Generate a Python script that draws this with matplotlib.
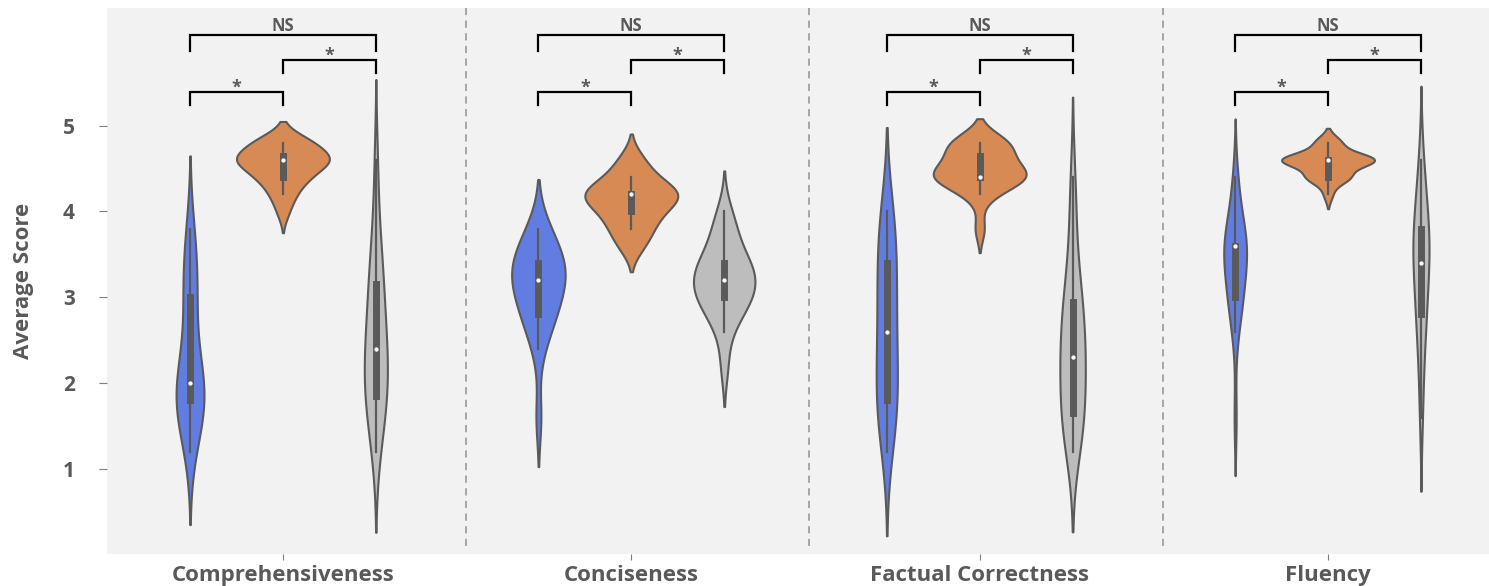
import pandas as pd
import matplotlib
matplotlib.use("Agg")
import matplotlib.pyplot as plt
import seaborn as sns

metrics = ['Comprehensiveness', 'Conciseness', 'Factual Correctness', 'Fluency']
models = ['Model A', 'Model B', 'Model C']
colors = ['#627de1', '#d78a54', '#bdbdbd']

# average rating per response (mean of 5 raters)
comp_a = [1.2, 1.4, 1.6, 1.6, 1.8, 1.8, 1.8, 1.8, 2.0, 2.0, 2.0, 2.2, 2.4, 2.6, 3.0, 3.0, 3.2, 3.4, 3.6, 3.8]
comp_b = [4.0, 4.2, 4.2, 4.4, 4.4, 4.4, 4.4, 4.6, 4.6, 4.6, 4.6, 4.6, 4.6, 4.6, 4.6, 4.8, 4.8, 4.8, 4.8, 4.8]
comp_c = [1.2, 1.4, 1.6, 1.8, 1.8, 1.8, 2.0, 2.0, 2.2, 2.2, 2.4, 2.4, 2.6, 2.6, 2.8, 3.0, 3.2, 3.2,
          3.4, 3.6, 4.0, 4.6]

conc_a = [1.6, 2.4, 2.6, 2.8, 2.8, 2.8, 3.0, 3.0, 3.2, 3.2, 3.2, 3.2, 3.4, 3.4, 3.4, 3.4, 3.6, 3.6, 3.8, 3.8]
conc_b = [3.6, 3.6, 3.8, 3.8, 3.8, 4.0, 4.0, 4.0, 4.0, 4.2, 4.2, 4.2, 4.2, 4.2, 4.2, 4.2, 4.2,
          4.4, 4.4, 4.4, 4.6, 4.6]
conc_c = [2.2, 2.6, 2.8, 2.8, 3.0, 3.0, 3.0, 3.0, 3.2, 3.2, 3.2, 3.2, 3.4, 3.4, 3.4, 3.4, 3.6, 3.8, 3.8, 4.0]

fact_a = [1.2, 1.4, 1.6, 1.8, 1.8, 1.8, 2.0, 2.2, 2.4, 2.6, 2.6, 2.8, 3.0, 3.2, 3.4, 3.4, 3.6, 3.8, 4.0, 4.0]
fact_b = [3.8, 4.2, 4.2, 4.4, 4.4, 4.4, 4.4, 4.4, 4.4, 4.4, 4.4, 4.6, 4.6, 4.6, 4.6, 4.8, 4.8, 4.8, 4.8, 4.8]
fact_c = [1.2, 1.4, 1.4, 1.6, 1.6, 1.6, 1.8, 2.0, 2.2, 2.2, 2.2, 2.4, 2.4, 2.6, 2.8, 2.8, 3.0, 3.0,
          3.2, 3.6, 4.0, 4.4]

flu_a = [1.6, 2.6, 2.8, 3.0, 3.0, 3.0, 3.2, 3.2, 3.4, 3.6, 3.6, 3.6, 3.6, 3.6, 3.6, 3.6, 3.8, 4.0, 4.2, 4.4]
flu_b = [4.2, 4.4, 4.4, 4.4, 4.4, 4.4, 4.6, 4.6, 4.6, 4.6, 4.6, 4.6, 4.6, 4.6, 4.6, 4.6, 4.6, 4.8, 4.8, 4.8]
flu_c = [1.6, 2.0, 2.4, 2.6, 2.8, 2.8, 3.0, 3.2, 3.4, 3.4, 3.4, 3.6, 3.6, 3.8, 3.8, 3.8, 4.0, 4.2, 4.4, 4.6]

scores = {
    'Comprehensiveness': [comp_a, comp_b, comp_c],
    'Conciseness': [conc_a, conc_b, conc_c],
    'Factual Correctness': [fact_a, fact_b, fact_c],
    'Fluency': [flu_a, flu_b, flu_c],
}

# significance tests between model pairs (same for every metric)
pairs = [(0, 2), (1, 2), (0, 1)]
pair_labels = ['NS', '*', '*']

# long format table for seaborn
rows = []
for m in metrics:
    for model, vals in zip(models, scores[m]):
        for v in vals:
            rows.append({'Metric': m, 'Model': model, 'Score': v})
data = pd.DataFrame(rows)

plt.rcParams['font.family'] = ['Open Sans', 'DejaVu Sans']
text_color = '#595959'

fig = plt.figure(figsize=(14.89, 5.86), dpi=100)
ax = fig.add_axes([107 / 1489, 32 / 586, 1382 / 1489, 546 / 586])
ax.set_facecolor('#f2f2f2')

# one call per metric so the violin areas are scaled within each metric
for m in metrics:
    sns.violinplot(data=data[data['Metric'] == m], x='Metric', y='Score', hue='Model',
                   order=metrics, hue_order=models, palette=colors, saturation=1,
                   inner='box', linewidth=1.5, linecolor='#5a5a5a',
                   density_norm='area', common_norm=True, legend=False, ax=ax,
                   inner_kws=dict(box_width=5, whis_width=1.6, marker='.'))

# dashed separators between metrics
for xs in [0.525, 1.51, 2.525]:
    ax.axvline(xs, ymin=0.015, ymax=1, color='#a0a0a0', lw=1.3, ls=(0, (4, 3)))

# significance brackets
hue_off = 0.8 / 3
bracket_top = [6.056, 5.765, 5.39]
bracket_leg = [0.19, 0.15, 0.15]
for i in range(len(metrics)):
    for (a, b), lab, top, leg in zip(pairs, pair_labels, bracket_top, bracket_leg):
        x1 = i + (a - 1) * hue_off
        x2 = i + (b - 1) * hue_off
        ax.plot([x1, x1, x2, x2], [top - leg, top, top, top - leg], color='black', lw=1.6,
                solid_joinstyle='miter')
        if lab == 'NS':
            ax.text((x1 + x2) / 2, top + 0.05, lab, ha='center', va='baseline',
                    fontsize=12, fontweight='bold', color=text_color)
        else:
            ax.text((x1 + x2) / 2, top - 0.01, lab, ha='center', va='baseline',
                    fontsize=13, fontweight='bold', color=text_color)

ax.set_xlim(-0.505, 3.462)
ax.set_ylim(0.01, 6.37)
ax.set_yticks([1, 2, 3, 4, 5])
ax.set_xticks(range(len(metrics)))
ax.set_xticklabels(metrics, fontsize=16, fontweight='bold', color=text_color)
ax.set_yticklabels(['1', '2', '3', '4', '5'], fontsize=15, fontweight='bold', color=text_color)
ax.tick_params(axis='y', length=6, color='#7f7f7f', pad=17)
ax.tick_params(axis='x', length=4, color='#7f7f7f', pad=4)
ax.set_xlabel('')
ax.set_ylabel('Average Score', fontsize=16, fontweight='bold', color=text_color)
ax.yaxis.set_label_coords(-0.053, 0.5)
for s in ax.spines.values():
    s.set_visible(False)

fig.savefig('out.png', dpi=100)
